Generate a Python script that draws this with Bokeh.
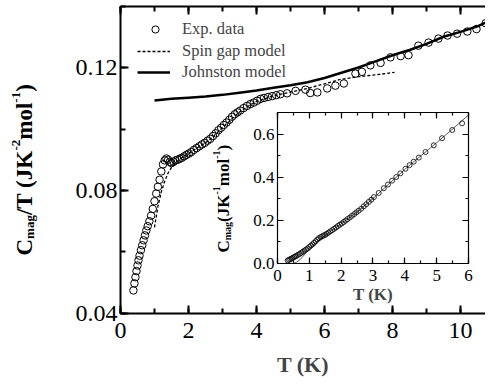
import math
from bokeh.plotting import figure
from bokeh.models import (Range1d, LinearAxis, SingleIntervalTicker, Legend, LegendItem,
                          Label, PrintfTickFormatter)
from bokeh.embed import file_html
from bokeh.resources import INLINE

FONT = "Liberation Serif"

# ---------------- data ----------------
exp_T = [0.38, 0.41, 0.44, 0.47, 0.50, 0.53, 0.56, 0.60, 0.64, 0.68, 0.72, 0.76, 0.80, 0.85,
         0.90, 0.95, 1.00, 1.05, 1.10, 1.15, 1.20, 1.25, 1.30, 1.35, 1.40, 1.45, 1.50, 1.56,
         1.62, 1.68, 1.74, 1.80, 1.87, 1.94, 2.01, 2.08, 2.16, 2.24, 2.32, 2.40, 2.48, 2.56,
         2.64, 2.72, 2.80, 2.88, 2.96, 3.04, 3.12, 3.20, 3.28, 3.36, 3.44, 3.52, 3.62, 3.72,
         3.82, 3.92, 4.02, 4.12, 4.22, 4.34, 4.46, 4.58, 4.70, 4.90, 5.15, 5.44, 5.58, 5.79,
         6.08, 6.32, 6.57, 6.91, 7.10, 7.35, 7.65, 7.94, 8.24, 8.47, 8.76, 9.06, 9.35, 9.62,
         9.90, 10.20, 10.47, 10.74]
exp_CT = [0.0475, 0.0498, 0.0518, 0.0538, 0.0556, 0.0573, 0.0588, 0.0606, 0.0622, 0.0638,
          0.0654, 0.0670, 0.0684, 0.0700, 0.0718, 0.0740, 0.0765, 0.0790, 0.0812, 0.0835,
          0.0862, 0.0885, 0.0898, 0.0904, 0.0900, 0.0893, 0.0889, 0.0893, 0.0898, 0.0900,
          0.0903, 0.0906, 0.0911, 0.0916, 0.0920, 0.0925, 0.0932, 0.0938, 0.0944, 0.0950,
          0.0955, 0.0962, 0.0968, 0.0977, 0.0986, 0.0996, 0.1004, 0.1013, 0.1021, 0.1030,
          0.1040, 0.1048, 0.1054, 0.1060, 0.1068, 0.1075, 0.1081, 0.1086, 0.1092, 0.1098,
          0.1101, 0.1104, 0.1107, 0.1110, 0.1113, 0.1116, 0.1124, 0.1128, 0.1117, 0.1119,
          0.1132, 0.1141, 0.1148, 0.1180, 0.1186, 0.1207, 0.1215, 0.1233, 0.1237, 0.1240,
          0.1271, 0.1281, 0.1294, 0.1304, 0.1310, 0.1317, 0.1325, 0.1344]

sg_T = [1.00, 1.10, 1.20, 1.30, 1.40, 1.50, 1.60, 1.70, 1.80, 2.00, 2.25, 2.50, 2.75, 3.00,
        3.25, 3.50, 3.75, 4.00, 4.50, 5.00, 5.50, 6.00, 6.50, 7.00, 7.50, 8.06]
sg_CT = [0.0680, 0.0748, 0.0795, 0.0830, 0.0857, 0.0875, 0.0888, 0.0898, 0.0906, 0.0920,
         0.0938, 0.0955, 0.0978, 0.1005, 0.1030, 0.1055, 0.1074, 0.1090, 0.1108, 0.1120,
         0.1132, 0.1147, 0.1162, 0.1170, 0.1176, 0.1184]

jo_T = [1.0, 1.5, 2.0, 2.5, 3.0, 3.5, 4.0, 4.5, 5.0, 5.5, 6.0, 6.5, 7.0, 7.5, 8.0, 8.5,
        9.0, 9.5, 10.0, 10.5, 10.97]
jo_CT = [0.1093, 0.1098, 0.1102, 0.1106, 0.1111, 0.1118, 0.1125, 0.1134, 0.1142, 0.1152,
         0.1166, 0.1183, 0.1200, 0.1220, 0.1240, 0.1257, 0.1277, 0.1300, 0.1316, 0.1334,
         0.1357]

ins_T = [0.32, 0.36, 0.40, 0.44, 0.48, 0.52, 0.56, 0.60, 0.65, 0.70, 0.75, 0.80, 0.85, 0.90,
         0.95, 1.00, 1.05, 1.10, 1.15, 1.20, 1.25, 1.30, 1.35, 1.40, 1.45, 1.50, 1.55, 1.60,
         1.66, 1.72, 1.78, 1.84, 1.90, 1.96, 2.02, 2.08, 2.14, 2.20, 2.27, 2.34, 2.41, 2.48,
         2.55, 2.63, 2.71, 2.79, 2.87, 2.95, 3.03, 3.18, 3.34, 3.47, 3.60, 3.73, 3.86, 4.02,
         4.15, 4.28, 4.44, 4.65, 4.91, 5.17, 5.49, 5.80]
ins_C = [0.014, 0.017, 0.020, 0.023, 0.026, 0.030, 0.033, 0.036, 0.041, 0.045, 0.050, 0.055,
         0.060, 0.065, 0.070, 0.077, 0.083, 0.089, 0.096, 0.103, 0.111, 0.117, 0.122, 0.126,
         0.130, 0.133, 0.138, 0.143, 0.149, 0.155, 0.161, 0.167, 0.174, 0.180, 0.186, 0.192,
         0.199, 0.206, 0.213, 0.221, 0.229, 0.237, 0.245, 0.254, 0.265, 0.275, 0.286, 0.296,
         0.308, 0.327, 0.349, 0.366, 0.384, 0.401, 0.418, 0.439, 0.456, 0.472, 0.491, 0.517,
         0.548, 0.581, 0.619, 0.650]

insl_T = [0.50, 0.60, 0.70, 0.80, 0.90, 1.00, 1.10, 1.20, 1.30, 1.40, 1.50, 1.60, 1.70,
          1.80, 2.00, 2.50, 3.00, 3.50, 4.00, 4.50, 5.00, 5.50, 6.00]
insl_C = [0.000, 0.006, 0.017, 0.033, 0.050, 0.068, 0.082, 0.095, 0.108, 0.120, 0.131,
          0.142, 0.153, 0.163, 0.184, 0.239, 0.301, 0.369, 0.436, 0.499, 0.560, 0.623, 0.688]

legend_labels = ["Exp. data", "Spin gap model", "Johnston model"]

# ---------------- figure (frame fills the canvas; axes are placed at fixed locations) --------
W_PX, H_PX = 485, 380
p = figure(width=W_PX, height=H_PX, x_range=Range1d(-3.529, 10.735),
           y_range=Range1d(0.018211, 0.141789),
           output_backend="svg", toolbar_location=None, title=None,
           x_axis_location=None, y_axis_location=None,
           min_border_left=0, min_border_right=0, min_border_top=0, min_border_bottom=0)
p.grid.visible = False
p.outline_line_color = None
p.background_fill_color = "white"
p.border_fill_color = "white"

p.extra_x_ranges = {"inset": Range1d(-8.702, 6.535)}
p.extra_y_ranges = {"inset": Range1d(-0.5424, 1.2193)}


def style_axis(ax, major_in, minor_in, lw, font_size, label_color="black", standoff=6):
    ax.major_tick_in = major_in
    ax.major_tick_out = 0
    ax.minor_tick_in = minor_in
    ax.minor_tick_out = 0
    ax.major_tick_line_width = lw
    ax.minor_tick_line_width = lw
    ax.axis_line_width = lw
    ax.major_label_text_font = FONT
    ax.major_label_text_font_size = font_size
    ax.major_label_text_color = label_color
    ax.major_label_standoff = standoff


xt = SingleIntervalTicker(interval=2, num_minor_ticks=2)
yt = SingleIntervalTicker(interval=0.04, num_minor_ticks=2)

xax = LinearAxis(ticker=xt, fixed_location=0.04, bounds=(0, 11))
style_axis(xax, 8, 5, 2, "24px", standoff=10)
xax.axis_label = "T (K)"
xax.axis_label_text_font = FONT
xax.axis_label_text_font_size = "22px"
xax.axis_label_text_font_style = "bold"
xax.axis_label_standoff = 10
p.add_layout(xax, "below")

yax = LinearAxis(ticker=yt, fixed_location=0, bounds=(0.04, 0.14))
style_axis(yax, 8, 5, 2, "24px", standoff=3)
p.add_layout(yax, "left")

top = LinearAxis(ticker=xt, fixed_location=0.14, bounds=(0, 11))
style_axis(top, 8, 5, 2, "24px", label_color=None)
p.add_layout(top, "above")

# ---------------- main glyphs ----------------
r_jo = p.line(jo_T, jo_CT, line_color="black", line_width=2.5)
r_sg = p.line(sg_T, sg_CT, line_color="black", line_width=1.3, line_dash="3 2")
r_exp = p.scatter(exp_T, exp_CT, marker="circle", size=7.5, fill_color=None,
                  line_color="black", line_width=1)

# one single-row legend per entry, each placed on its own row
leg_rows = [(legend_labels[0], r_exp, 146, 341, 18, 18),
            (legend_labels[1], r_sg, 137, 319, 33, 12),
            (legend_labels[2], r_jo, 137, 298, 33, 12)]
for label, rend, vx, vy, gw, so in leg_rows:
    p.add_layout(Legend(items=[LegendItem(label=label, renderers=[rend])],
                        location=(vx, vy), border_line_color=None, background_fill_alpha=0,
                        label_text_font=FONT, label_text_font_size="16.5px",
                        glyph_width=gw, glyph_height=18, label_height=18, spacing=0,
                        padding=0, margin=0, label_standoff=so))

# ---------------- inset ----------------
ixt = SingleIntervalTicker(interval=1, num_minor_ticks=2)
iyt = SingleIntervalTicker(interval=0.2, num_minor_ticks=2)

ib = LinearAxis(x_range_name="inset", y_range_name="inset", ticker=ixt,
                fixed_location=0, bounds=(0, 6))
style_axis(ib, 6, 3, 1.2, "17px", standoff=6)
ib.axis_label = "T (K)"
ib.axis_label_text_font = FONT
ib.axis_label_text_font_size = "17px"
ib.axis_label_text_font_style = "bold"
ib.axis_label_standoff = 1
p.add_layout(ib, "below")

il = LinearAxis(x_range_name="inset", y_range_name="inset", ticker=iyt,
                fixed_location=0, bounds=(0, 0.7), formatter=PrintfTickFormatter(format="%.1f"))
style_axis(il, 6, 3, 1.2, "17px", standoff=3)
p.add_layout(il, "left")

it = LinearAxis(x_range_name="inset", y_range_name="inset", ticker=ixt,
                fixed_location=0.7, bounds=(0, 6))
style_axis(it, 6, 3, 1.2, "17px", label_color=None)
p.add_layout(it, "above")

ir = LinearAxis(x_range_name="inset", y_range_name="inset", ticker=iyt,
                fixed_location=6, bounds=(0, 0.7))
style_axis(ir, 6, 3, 1.2, "17px", label_color=None)
p.add_layout(ir, "right")

p.line(insl_T, insl_C, x_range_name="inset", y_range_name="inset",
       line_color="#333333", line_width=0.8)
p.scatter(ins_T, ins_C, x_range_name="inset", y_range_name="inset", marker="circle",
          size=5, fill_color=None, line_color="black", line_width=0.8)

# ---------------- rotated y labels with sub/superscripts ----------------
W = {"C": 722, "m": 833, "a": 500, "g": 500, "/": 278, "T": 667, " ": 250, "(": 333,
     "J": 500, "K": 778, "-": 333, "2": 500, "1": 500, "o": 500, "l": 278, ")": 333}


def tw(s, size):
    return sum(W.get(c, 500) for c in s) * size / 1000.0


def rot_label(pieces, x0, y0):
    y = y0
    for text, size, shift in pieces:
        p.add_layout(Label(x=x0 + shift, y=y, x_units="screen", y_units="screen", text=text,
                           angle=math.pi / 2, text_font=FONT, text_font_size=f"{size}px",
                           text_font_style="bold", text_align="left",
                           text_baseline="alphabetic", text_color="black"))
        y += tw(text, size)


B, S = 23, 13
rot_label([("C", B, 0), ("mag", S, 5), ("/T (JK", B, 0), ("-2", S, -9), ("mol", B, 0),
           ("-1", S, -9), (")", B, 0)], 24, 125)
b, s = 17, 10
rot_label([("C", b, 0), ("mag", s, 4), ("(JK", b, 0), ("-1", s, -7), ("mol", b, 0),
           ("-1", s, -7), (")", b, 0)], 223, 128)

open("out.html", "w").write(file_html(p, INLINE))
